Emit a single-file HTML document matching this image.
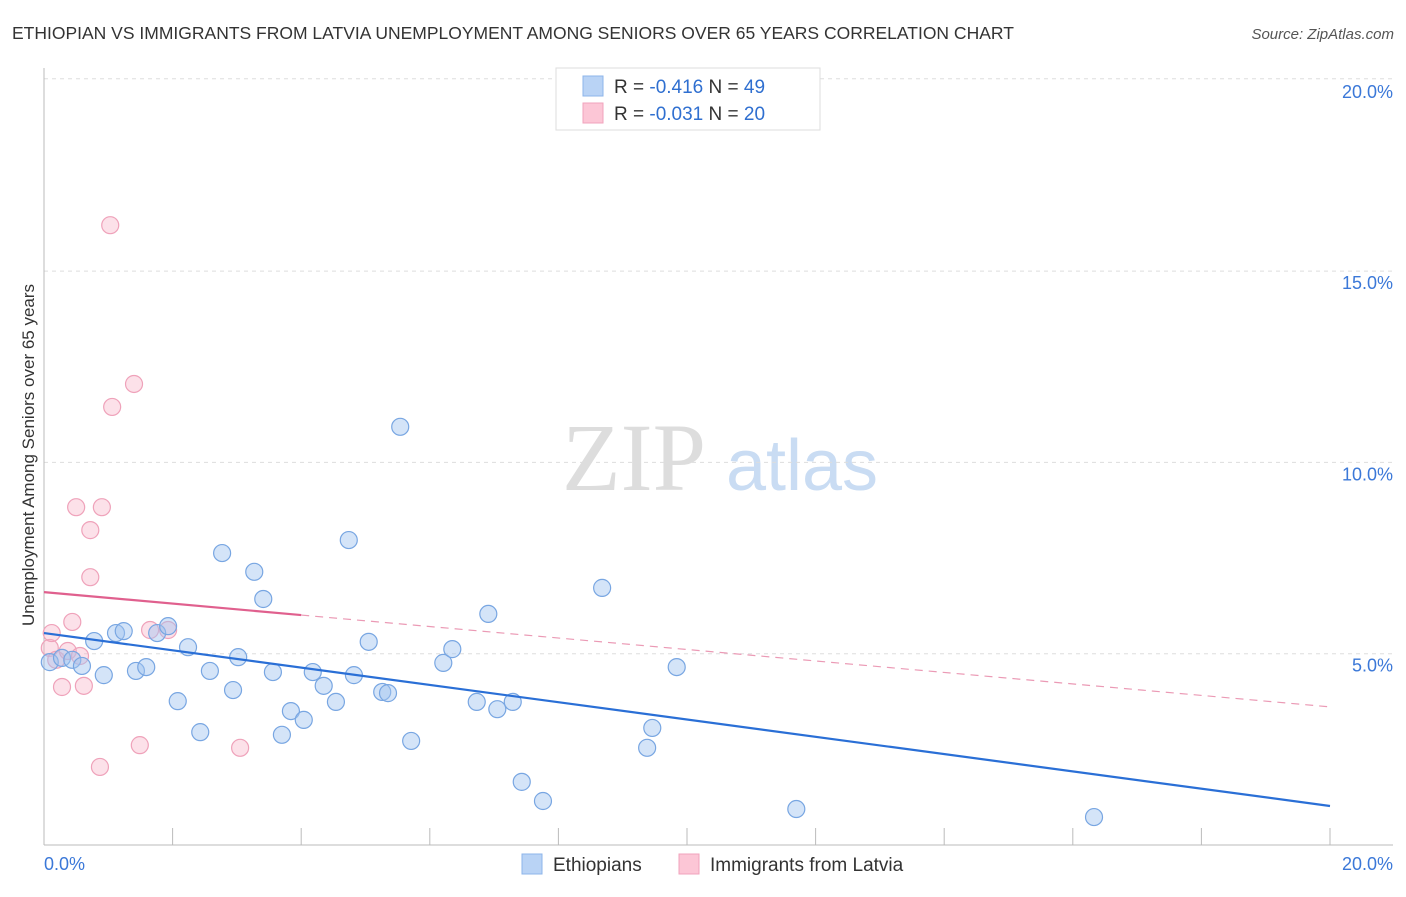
<!DOCTYPE html>
<html><head><meta charset="utf-8"><style>
body{margin:0;background:#fff;font-family:"Liberation Sans",sans-serif}
</style></head><body>
<svg width="1406" height="892" xmlns="http://www.w3.org/2000/svg" font-family="Liberation Sans, sans-serif">
<text x="12" y="39" font-size="17.5" fill="#333">ETHIOPIAN VS IMMIGRANTS FROM LATVIA UNEMPLOYMENT AMONG SENIORS OVER 65 YEARS CORRELATION CHART</text>
<text x="1394" y="39" font-size="15" fill="#555" font-style="italic" text-anchor="end">Source: ZipAtlas.com</text>
<g>
<text x="634" y="490" font-size="96" font-family="Liberation Serif, serif" fill="#ddd" text-anchor="middle">ZIP</text>
<text x="802" y="490" font-size="72" fill="#c9dcf3" text-anchor="middle">atlas</text>
</g>
<g id="grid"></g>
<g id="axes"></g>
<g id="marks"></g>
<text transform="translate(34,455) rotate(-90)" font-size="17" fill="#333" text-anchor="middle">Unemployment Among Seniors over 65 years</text>
<g>
<rect x="556" y="68" width="264" height="62" fill="#fff" stroke="#ddd"/>
<rect x="583" y="76" width="20" height="20" fill="#b9d3f5" stroke="#8db5ea"/>
<rect x="583" y="103" width="20" height="20" fill="#fcc6d6" stroke="#f1a3bc"/>
<text x="614" y="93" font-size="19" fill="#333">R = <tspan fill="#2f6fd0">-0.416</tspan>   N = <tspan fill="#2f6fd0">49</tspan></text>
<text x="614" y="120" font-size="19" fill="#333">R = <tspan fill="#2f6fd0">-0.031</tspan>   N = <tspan fill="#2f6fd0">20</tspan></text>
</g>
<g>
<rect x="522" y="854" width="20" height="20" fill="#b9d3f5" stroke="#8db5ea"/>
<text x="553" y="871" font-size="19" fill="#333">Ethiopians</text>
<rect x="679" y="854" width="20" height="20" fill="#fcc6d6" stroke="#f1a3bc"/>
<text x="710" y="871" font-size="19" fill="#333">Immigrants from Latvia</text>
</g>
</svg>
<script>
const yTicks=[5,10,15,20];
const yTickLabels=["5.0%","10.0%","15.0%","20.0%"];
const xTickLabels=["0.0%","20.0%"];
const blueX=[0.09,0.28,0.44,0.59,0.78,0.93,1.12,1.24,1.43,1.59,1.76,1.93,2.08,2.24,2.43,2.58,2.77,2.94,3.02,3.27,3.41,3.56,3.70,3.84,4.04,4.18,4.35,4.54,4.74,4.82,5.05,5.26,5.35,5.54,5.71,6.21,6.35,6.73,6.91,7.05,7.29,7.43,7.76,8.68,9.38,9.46,9.84,11.70,16.33];
const blueY=[4.78,4.89,4.84,4.68,5.33,4.44,5.54,5.59,4.55,4.65,5.54,5.72,3.76,5.17,2.95,4.55,7.63,4.05,4.91,7.14,6.43,4.52,2.88,3.50,3.27,4.52,4.16,3.74,7.97,4.44,5.31,4.00,3.97,10.93,2.72,4.76,5.12,3.74,6.04,3.55,3.74,1.65,1.15,6.72,2.54,3.06,4.65,0.94,0.73];
const pinkX=[0.09,0.12,0.19,0.28,0.37,0.44,0.50,0.56,0.62,0.72,0.72,0.87,0.90,1.03,1.06,1.40,1.49,1.65,1.93,3.05];
const pinkY=[5.15,5.54,4.84,4.13,5.07,5.83,8.83,4.94,4.16,7.00,8.23,2.04,8.83,16.20,11.45,12.05,2.61,5.62,5.62,2.54];
const blueLine=[5.54,1.02];
const pinkLine=[6.61,3.61];
const pinkSolidEnd=4;
const NS="http://www.w3.org/2000/svg";
const X=v=>44+v*64.3, Y=v=>845-v*38.26;
function mk(t,a,p){const e=document.createElementNS(NS,t);for(const k in a)e.setAttribute(k,a[k]);document.getElementById(p).appendChild(e);return e;}
yTicks.forEach((t,i)=>{
 const g=mk('line',{x1:44,x2:1393,y1:Y(t)-(t===20?1:0),y2:Y(t)-(t===20?1:0),stroke:'#ddd','stroke-dasharray':'4,4'},'grid');
 
 
 const l=mk('text',{x:1393,y:Y(t)+18,'font-size':18,fill:'#3b78d8','text-anchor':'end'},'axes');
 l.textContent=yTickLabels[i];
 
 
});
mk('line',{x1:44,x2:44,y1:68,y2:845,stroke:'#bbb'},'axes');
mk('line',{x1:44,x2:1393,y1:845,y2:845,stroke:'#bbb'},'axes');
for(let i=0;i<=10;i++){const tk=mk('line',{x1:X(i*2),x2:X(i*2),y1:828,y2:845,stroke:'#bbb'},'axes');
 
 }
[[0,'start'],[20,'end']].forEach((d,i)=>{const t=mk('text',{x:i?1393:44,y:870,'font-size':18,fill:'#3b78d8','text-anchor':d[1]},'axes');t.textContent=xTickLabels[i];
 
 });
pinkX.forEach((x,i)=>{const c=mk('circle',{cx:X(x),cy:Y(pinkY[i]),r:8.5,fill:'rgba(248,180,200,0.4)',stroke:'#efa2ba','stroke-width':1.2},'marks');
 
 });
blueX.forEach((x,i)=>{const c=mk('circle',{cx:X(x),cy:Y(blueY[i]),r:8.5,fill:'rgba(160,195,240,0.45)',stroke:'#78a6e2','stroke-width':1.2},'marks');
 
 });
const bl=mk('line',{x1:X(0),y1:Y(blueLine[0]),x2:X(20),y2:Y(blueLine[1]),stroke:'#2a6fd6','stroke-width':2.2},'marks');


const pm=pinkLine[0]+(pinkLine[1]-pinkLine[0])*pinkSolidEnd/20;
const ps=mk('line',{x1:X(0),y1:Y(pinkLine[0]),x2:X(pinkSolidEnd),y2:Y(pm),stroke:'#e0608e','stroke-width':2.2},'marks');


const pd=mk('line',{x1:X(pinkSolidEnd),y1:Y(pm),x2:X(20),y2:Y(pinkLine[1]),stroke:'#eb9ab5','stroke-width':1.2,'stroke-dasharray':'8,6'},'marks');


</script>
</body></html>
